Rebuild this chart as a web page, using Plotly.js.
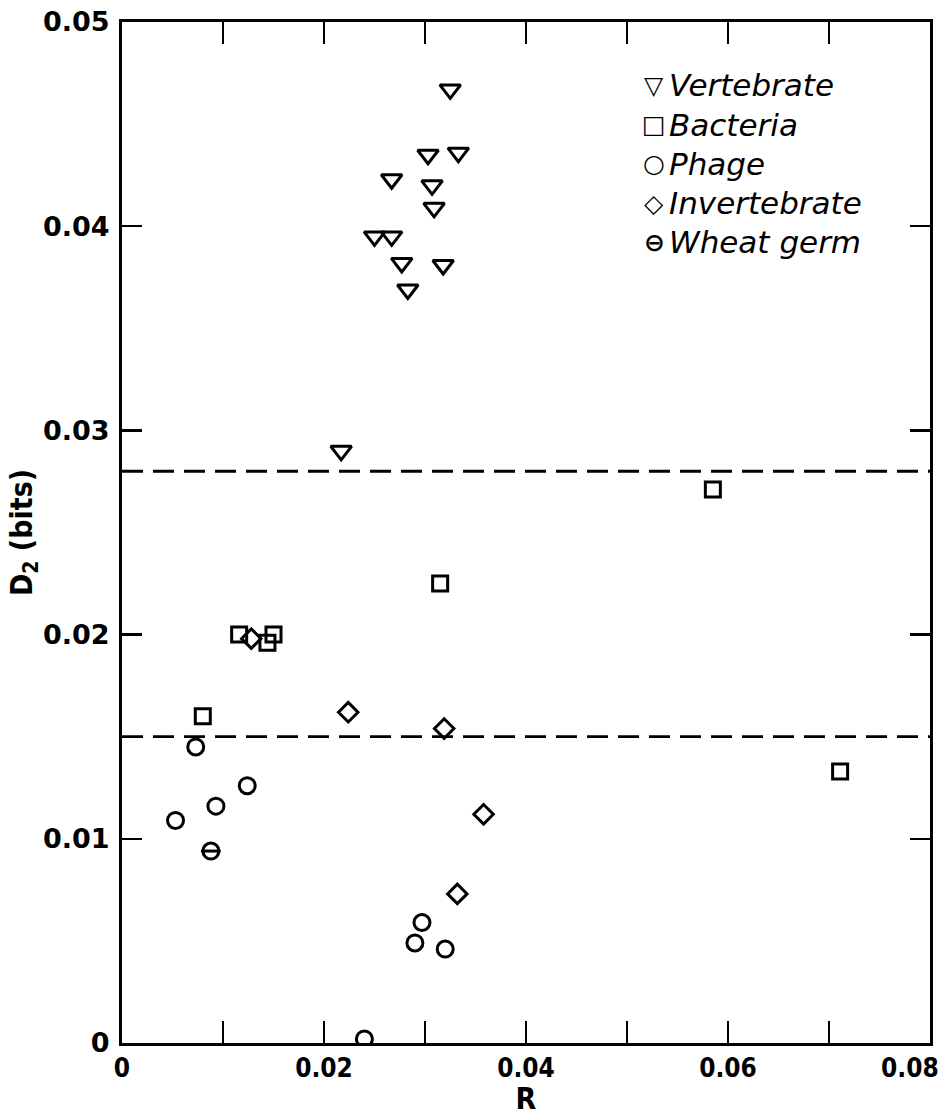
<!DOCTYPE html>
<html>
<head>
<meta charset="utf-8">
<script src="https://cdn.plot.ly/plotly-3.0.1.min.js"></script>
<style>
html,body{margin:0;padding:0;background:#fff;}
#chart{width:944px;height:1116px;}
</style>
</head>
<body>
<div id="chart"></div>
<script>
// ---- data ----
const vertX = [0.0325, 0.0303, 0.0333, 0.0267, 0.0307, 0.0309, 0.0250, 0.0267, 0.0277, 0.0318, 0.0283, 0.0217];
const vertY = [0.0467, 0.0435, 0.0436, 0.0423, 0.0420, 0.0409, 0.0395, 0.0395, 0.0382, 0.0381, 0.0369, 0.0290];

const bactX = [0.0585, 0.0315, 0.0116, 0.0150, 0.0144, 0.0080, 0.0711];
const bactY = [0.0271, 0.0225, 0.0200, 0.0200, 0.0196, 0.0160, 0.0133];

const phageX = [0.0073, 0.0124, 0.0093, 0.0053, 0.0297, 0.0290, 0.0320, 0.0240];
const phageY = [0.0145, 0.0126, 0.0116, 0.0109, 0.0059, 0.0049, 0.0046, 0.0002];

const invX = [0.0128, 0.0224, 0.0319, 0.0358, 0.0332];
const invY = [0.0198, 0.0162, 0.0154, 0.0112, 0.0073];

const wheatX = [0.0088];
const wheatY = [0.0094];

const refLevels = [0.028, 0.015];

const seriesNames = ["Vertebrate", "Bacteria", "Phage", "Invertebrate", "Wheat germ"];
const legendGlyphs = ["\u25BD", "\u25A1", "\u25CB", "\u25C7", "\u2296"];

const xTickVals = [0, 0.02, 0.04, 0.06];
const xTickText = ["0", "0.02", "0.04", "0.06"];
const xLastTick = 0.08, xLastTickText = "0.08";   // drawn right-aligned at the axis end
const xMinorVals = [0.01, 0.03, 0.05, 0.07, 0.08];
const yTickVals = [0, 0.01, 0.02, 0.03, 0.04, 0.05];
const yTickText = ["0", "0.01", "0.02", "0.03", "0.04", "0.05"];

// ---- styling ----
const ink = "#000";
const xLabelFont = {family: "DejaVu Sans Condensed, DejaVu Sans, sans-serif", size: 26, color: ink, weight: "bold"};
function pts(x, y, name, symbol, size) {
  return {x: x, y: y, name: name, type: "scatter", mode: "markers",
    marker: {symbol: symbol, size: size, color: ink, line: {color: ink, width: 3}},
    showlegend: false, hoverinfo: "x+y"};
}

const traces = [
  pts(vertX, vertY, seriesNames[0], "triangle-down-open", 18),
  pts(bactX, bactY, seriesNames[1], "square-open", 15),
  pts(phageX, phageY, seriesNames[2], "circle-open", 16),
  pts(invX, invY, seriesNames[3], "diamond-open", 15),
  pts(wheatX, wheatY, seriesNames[4], "circle-open", 16),
  pts(wheatX, wheatY, seriesNames[4], "line-ew-open", 14)
];

const shapes = refLevels.map(v => ({
  type: "line", xref: "paper", x0: 0, x1: 1, yref: "y", y0: v, y1: v,
  line: {color: ink, width: 2.8, dash: "21px,10px"}, layer: "below"
}));

// legend drawn as text
const plotL = 122, plotR = 930, plotT = 22, plotB = 1043;
const legRowsPx = [85, 125, 164, 203, 242];
const annotations = [];
seriesNames.forEach((n, i) => {
  const py = (plotB - legRowsPx[i]) / (plotB - plotT);
  annotations.push({xref: "paper", yref: "paper", x: (654 - plotL) / (plotR - plotL), y: py,
    xanchor: "center", yanchor: "middle", showarrow: false, text: "<b>" + legendGlyphs[i] + "</b>",
    font: {family: "DejaVu Sans", size: 25, color: ink}});
  annotations.push({xref: "paper", yref: "paper", x: (667 - plotL) / (plotR - plotL), y: py,
    xanchor: "left", yanchor: "middle", showarrow: false, text: "<i>" + n + "</i>",
    font: {family: "DejaVu Sans", size: 31, color: ink}});
});
// last x tick label, kept inside the page
annotations.push({xref: "x", yref: "paper", x: xLastTick, y: (plotB - 1068) / (plotB - plotT),
  xanchor: "right", yanchor: "middle", xshift: 11, showarrow: false,
  text: xLastTickText, font: xLabelFont});

const layout = {
  width: 944, height: 1116,
  margin: {l: plotL, r: 944 - plotR, t: plotT, b: 1116 - plotB},
  paper_bgcolor: "#fff", plot_bgcolor: "#fff",
  showlegend: false,
  xaxis: {
    range: [0, 0.08], tickvals: xTickVals, ticktext: xTickText,
    ticks: "inside", ticklen: 22, tickwidth: 2.2, tickcolor: ink,
    minor: {tickvals: xMinorVals, ticks: "inside", ticklen: 22, tickwidth: 2.2, tickcolor: ink, showgrid: false},
    showline: true, linewidth: 3, linecolor: ink, mirror: "ticks",
    showgrid: false, zeroline: false,
    tickfont: xLabelFont,
    title: {text: "<b>R</b>", standoff: 11,
      font: {family: "DejaVu Sans Condensed, DejaVu Sans, sans-serif", size: 30, color: ink}}
  },
  yaxis: {
    range: [0, 0.05], tickvals: yTickVals, ticktext: yTickText,
    ticks: "inside", ticklen: 20, tickwidth: 2.2, tickcolor: ink,
    showline: true, linewidth: 3, linecolor: ink, mirror: "ticks",
    showgrid: false, zeroline: false, ticklabelstandoff: 4,
    tickfont: {family: "DejaVu Sans", size: 27, color: ink, weight: "bold"},
    title: {text: "<b>D<sub>2</sub> (bits)</b>", standoff: 2,
      font: {family: "DejaVu Sans Condensed, DejaVu Sans, sans-serif", size: 30, color: ink}}
  },
  shapes: shapes,
  annotations: annotations
};

Plotly.newPlot("chart", traces, layout, {displayModeBar: false, staticPlot: true});
</script>
</body>
</html>
